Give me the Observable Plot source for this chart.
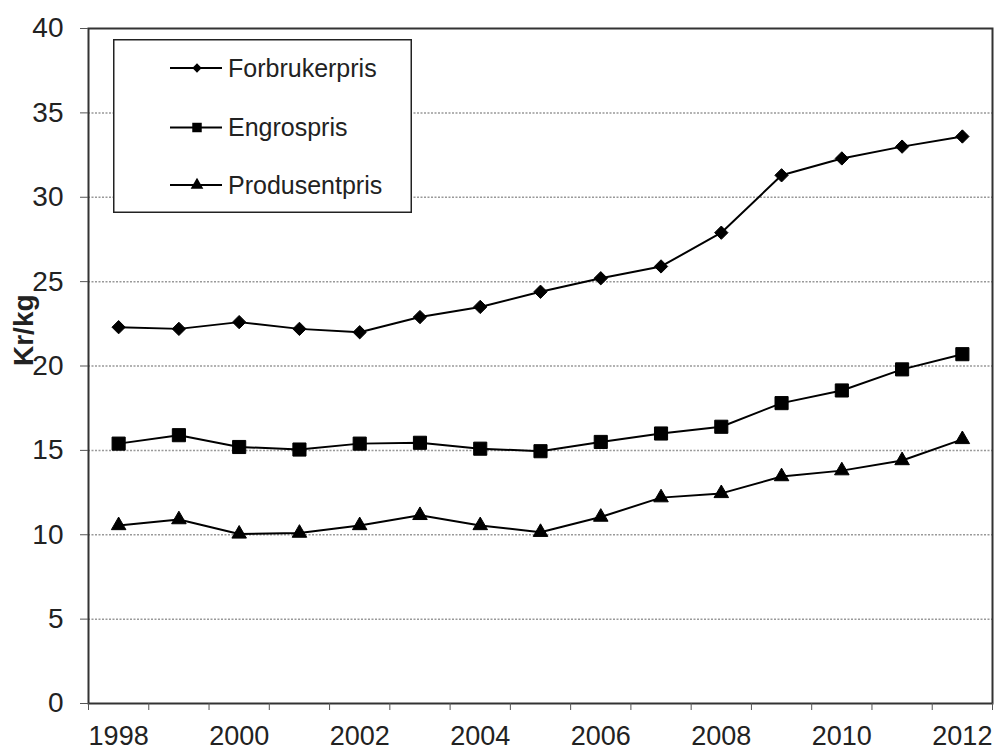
<!DOCTYPE html>
<html>
<head>
<meta charset="utf-8">
<script src="https://cdn.jsdelivr.net/npm/d3@7"></script>
<script src="https://cdn.jsdelivr.net/npm/@observablehq/plot@0.6"></script>
<style>
  html, body { margin: 0; padding: 0; background: white; }
  #wrap { position: relative; width: 1000px; height: 751px; }
  #legend { position: absolute; left: 113px; top: 39px; }
</style>
</head>
<body>
<div id="wrap"></div>
<script>
// ---- data ----
const years = [1998, 1999, 2000, 2001, 2002, 2003, 2004, 2005, 2006, 2007, 2008, 2009, 2010, 2011, 2012];
const forbrukerpris = [22.3, 22.2, 22.6, 22.2, 22.0, 22.9, 23.5, 24.4, 25.2, 25.9, 27.9, 31.3, 32.3, 33.0, 33.6];
const engrospris    = [15.4, 15.9, 15.2, 15.05, 15.4, 15.45, 15.1, 14.95, 15.5, 16.0, 16.4, 17.8, 18.55, 19.8, 20.7];
const produsentpris = [10.55, 10.9, 10.05, 10.1, 10.55, 11.15, 10.55, 10.15, 11.05, 12.2, 12.45, 13.45, 13.8, 14.4, 15.65];
const seriesNames = ["Forbrukerpris", "Engrospris", "Produsentpris"];
const xTickLabels = [1998, 2000, 2002, 2004, 2006, 2008, 2010, 2012];
const yTicks = [0, 5, 10, 15, 20, 25, 30, 35, 40];
const gridLines = [5, 10, 15, 20, 25, 30, 35];
const yLabel = "Kr/kg";

// ---- build table ----
const seriesValues = [forbrukerpris, engrospris, produsentpris];
const rows = seriesNames.map((name, i) => years.map((yr, j) => ({series: name, year: yr, value: seriesValues[i][j]})));
const boundaries = years.map(y => y - 0.5).concat([years[years.length - 1] + 0.5]);

const FONT = "'Liberation Sans', Arial, sans-serif";
const symbols = ["diamond2", "square", "triangle"];
const sizes = [6.0, 7.4, 5.4];

const marks = [
  Plot.ruleY(gridLines, {stroke: "#999", strokeDasharray: "2,1.5", strokeWidth: 1.5}),
  Plot.frame({stroke: "#333", strokeWidth: 2}),
  Plot.axisY({ticks: yTicks, tickSize: 8, tickPadding: 17, fontSize: 28, label: null, stroke: "#555", color: "#222"}),
  Plot.axisX({ticks: xTickLabels, tickSize: 0, tickPadding: 22, fontSize: 27, tickFormat: d => String(d), label: null}),
  Plot.axisX({ticks: boundaries, tickSize: 7, tickFormat: () => "", label: null, stroke: "#555"})
];
rows.forEach((data, i) => {
  marks.push(Plot.line(data, {x: "year", y: "value", stroke: "black", strokeWidth: 2}));
  marks.push(Plot.dot(data, {x: "year", y: "value", symbol: () => symbols[i], r: sizes[i], fill: "black", stroke: "black", strokeWidth: 1}));
});
marks.push(Plot.text([yLabel], {frameAnchor: "left", dx: -64, rotate: -90, fontWeight: "bold", fontSize: 28, fill: "#222"}));

const chart = Plot.plot({
  width: 1000,
  height: 751,
  marginLeft: 88,
  marginRight: 8,
  marginTop: 28,
  marginBottom: 48,
  style: {fontFamily: FONT, fontSize: "28px", color: "#222", background: "white"},
  x: {type: "linear", domain: [1997.5, 2012.5]},
  y: {domain: [0, 40]},
  symbol: {type: "identity"},
  marks
});
const wrap = document.getElementById("wrap");
wrap.appendChild(chart);

// ---- legend (inside plot area, top-left) ----
const lw = 299, lh = 174;
const legend = d3.create("svg")
  .attr("id", "legend")
  .attr("width", lw).attr("height", lh)
  .style("font-family", FONT);
legend.append("rect").attr("x", 0.75).attr("y", 0.75).attr("width", lw - 1.5).attr("height", lh - 1.5)
  .attr("fill", "white").attr("stroke", "#222").attr("stroke-width", 1.5);
const rowY = [29, 88.5, 146];
const legSym = [d3.symbolDiamond2, d3.symbolSquare, d3.symbolTriangle];
const legSize = [55, 90, 70];
seriesNames.forEach((name, i) => {
  const g = legend.append("g").attr("transform", `translate(0,${rowY[i]})`);
  g.append("line").attr("x1", 57).attr("x2", 109).attr("y1", 0).attr("y2", 0).attr("stroke", "black").attr("stroke-width", 2);
  g.append("path").attr("d", d3.symbol(legSym[i], legSize[i])()).attr("transform", "translate(84,0)").attr("fill", "black");
  g.append("text").attr("x", 115).attr("y", 0).attr("dy", "0.35em").attr("font-size", 25).attr("fill", "#222").text(name);
});
wrap.appendChild(legend.node());
</script>
</body>
</html>
